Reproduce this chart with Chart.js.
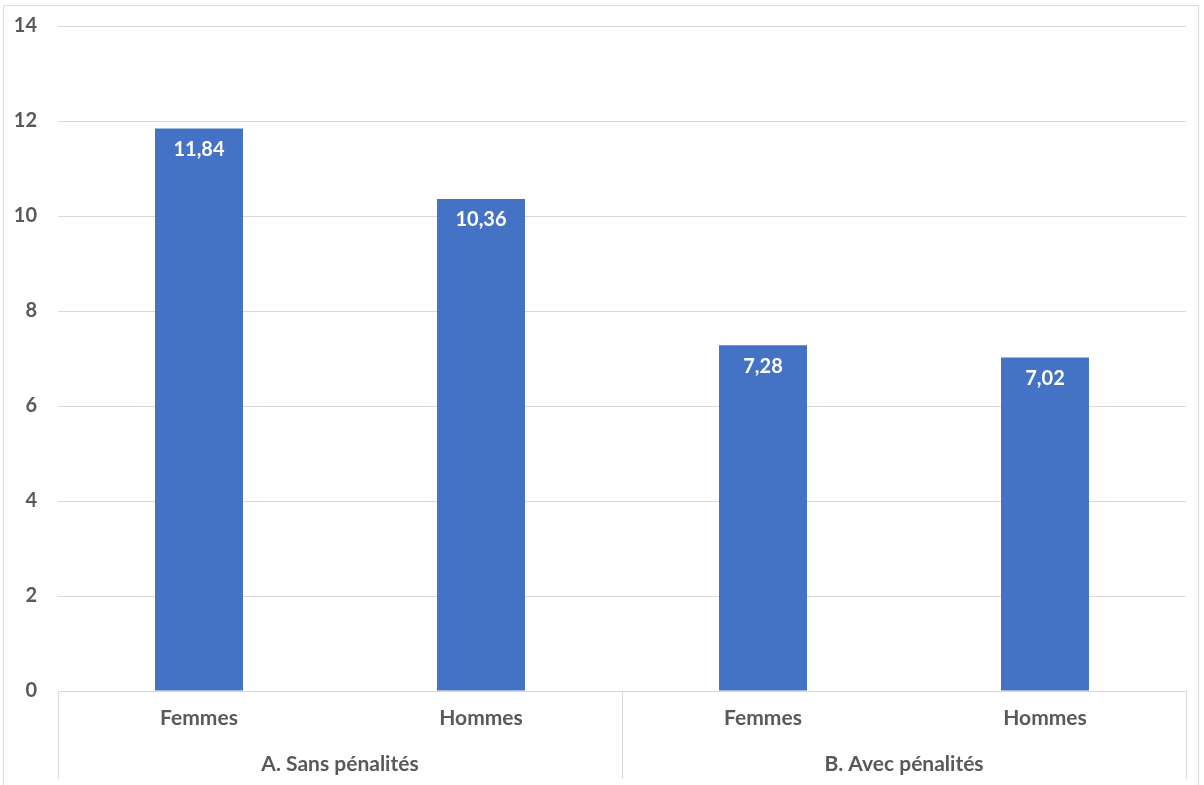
<!DOCTYPE html>
<html lang="fr">
<head>
<meta charset="utf-8">
<title>Femmes / Hommes</title>
<script src="https://cdn.jsdelivr.net/npm/chart.js@4.4.1/dist/chart.umd.min.js"></script>
<style>
  html, body { margin: 0; padding: 0; background: #ffffff; }
  #wrap { position: relative; width: 1204px; height: 785px; }
</style>
</head>
<body>
<div id="wrap"><canvas id="chart"></canvas></div>
<script>
// Categories, in order, and the groups they belong to
const categories = ['Femmes', 'Hommes', 'Femmes', 'Hommes'];
const groupLabels = ['A. Sans pénalités', 'B. Avec pénalités'];
const groupSizes = [2, 2];

// Bar values
const values = [11.84, 10.36, 7.28, 7.02];

// Value axis
const yMin = 0;
const yMax = 14;
const yStep = 2;

const TEXT = '#595959';
const GRID = '#d9d9d9';
const FONT = 'Lato, "Open Sans", "DejaVu Sans", sans-serif';

const fmt = v => v.toFixed(2).replace('.', ',');

// White value labels inside the top of each bar
const barValueLabels = {
  id: 'barValueLabels',
  afterDatasetsDraw(chart) {
    const ctx = chart.ctx;
    const meta = chart.getDatasetMeta(0);
    ctx.save();
    ctx.fillStyle = '#ffffff';
    ctx.font = 'bold 20px ' + FONT;
    ctx.textAlign = 'center';
    ctx.textBaseline = 'middle';
    meta.data.forEach((bar, i) => {
      ctx.fillText(fmt(chart.data.datasets[0].data[i]), bar.x, bar.y + 21);
    });
    ctx.restore();
  }
};

// Second level of the category axis: group names and separators
const groupAxis = {
  id: 'groupAxis',
  afterDraw(chart) {
    const ctx = chart.ctx;
    const x = chart.scales.x;
    const area = chart.chartArea;
    const slot = (x.right - x.left) / categories.length;
    ctx.save();
    ctx.strokeStyle = GRID;
    ctx.lineWidth = 1;
    let start = 0;
    const edges = [0];
    groupSizes.forEach(n => { start += n; edges.push(start); });
    edges.forEach(e => {
      const px = Math.round(x.left + e * slot) + 0.5;
      ctx.beginPath();
      ctx.moveTo(px, area.bottom);
      ctx.lineTo(px, area.bottom + 88);
      ctx.stroke();
    });
    ctx.fillStyle = TEXT;
    ctx.font = 'bold 21px ' + FONT;
    ctx.textAlign = 'center';
    ctx.textBaseline = 'middle';
    groupLabels.forEach((g, i) => {
      const cx = x.left + (edges[i] + edges[i + 1]) / 2 * slot;
      ctx.fillText(g, cx, area.bottom + 73);
    });
    ctx.restore();
  }
};

// Light frame around the whole chart
const frame = {
  id: 'frame',
  beforeDraw(chart) {
    const ctx = chart.ctx;
    ctx.save();
    ctx.fillStyle = '#ffffff';
    ctx.fillRect(0, 0, chart.width, chart.height);
    ctx.strokeStyle = '#dcdcdc';
    ctx.lineWidth = 1;
    ctx.strokeRect(3.5, 5.5, 1195, 800);
    ctx.restore();
  }
};

new Chart(document.getElementById('chart'), {
  type: 'bar',
  data: {
    labels: categories,
    datasets: [{
      data: values,
      backgroundColor: '#4472c4',
      borderWidth: 0,
      categoryPercentage: 1,
      barPercentage: 0.312
    }]
  },
  options: {
    responsive: true,
    maintainAspectRatio: false,
    animation: false,
    layout: { padding: { left: 3, right: 18, top: 26, bottom: 0 } },
    plugins: {
      legend: { display: false },
      tooltip: { enabled: false }
    },
    scales: {
      x: {
        grid: { display: false, drawTicks: false },
        border: { display: false },
        ticks: {
          color: TEXT,
          font: { family: FONT, size: 21, weight: 'bold' },
          padding: 15,
          maxRotation: 0,
          autoSkip: false
        },
        afterFit(scale) { scale.height = 94; }
      },
      y: {
        min: yMin,
        max: yMax,
        grid: {
          color: GRID,
          lineWidth: 1,
          drawTicks: true,
          tickLength: 7,
          tickColor: 'rgba(0,0,0,0)'
        },
        border: { display: false },
        ticks: {
          stepSize: yStep,
          color: TEXT,
          font: { family: FONT, size: 20, weight: 'bold' },
          padding: 14
        },
        afterFit(scale) { scale.width = 55; }
      }
    }
  },
  plugins: [frame, barValueLabels, groupAxis]
});
</script>
</body>
</html>
